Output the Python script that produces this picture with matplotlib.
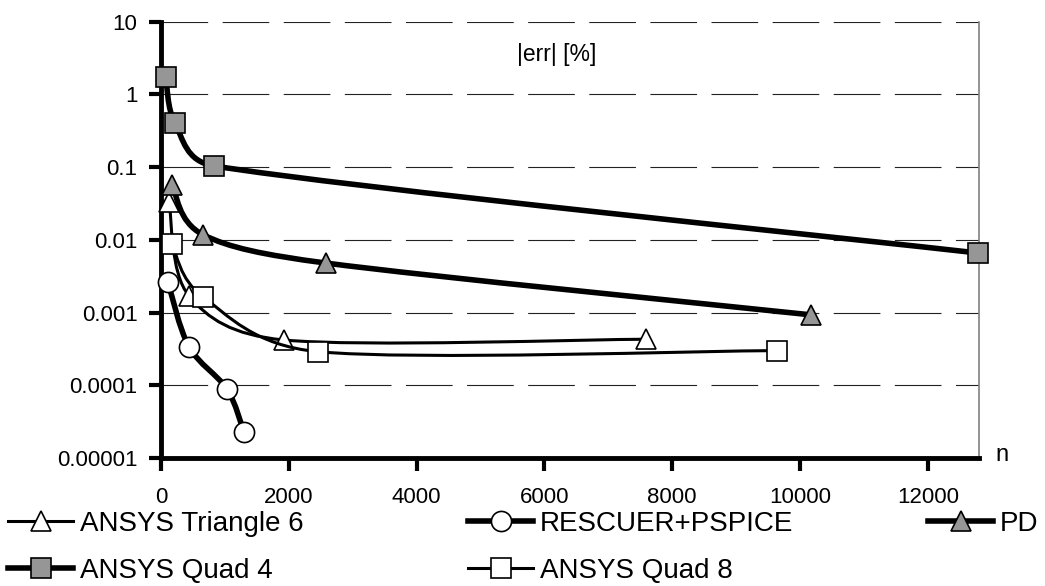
import matplotlib
matplotlib.use('Agg')
import matplotlib.pyplot as plt
import numpy as np
from matplotlib.path import Path
from matplotlib.patches import PathPatch
from matplotlib.lines import Line2D
from matplotlib.ticker import NullLocator

plt.rcParams['font.family'] = ['Liberation Sans', 'DejaVu Sans']

# data
n_tri6 = [125, 437, 1922, 7594]
err_tri6 = [0.033, 0.0017, 0.00042, 0.00043]
n_resc = [109, 437, 1031, 1297]
err_resc = [0.0026, 0.00034, 0.000089, 0.000023]
n_pd = [172, 656, 2578, 10172]
err_pd = [0.057, 0.0118, 0.0048, 0.00093]
n_q4 = [75, 219, 828, 12780]
err_q4 = [1.73, 0.40, 0.104, 0.0066]
n_q8 = [172, 656, 2453, 9640]
err_q8 = [0.0087, 0.00165, 0.00029, 0.00030]

series_names = ['ANSYS Triangle 6', 'RESCUER+PSPICE', 'PD', 'ANSYS Quad 4', 'ANSYS Quad 8']
xticks = [0, 2000, 4000, 6000, 8000, 10000, 12000]
yticks = [10, 1, 0.1, 0.01, 0.001, 0.0001, 0.00001]
ytick_labels = ['10', '1', '0.1', '0.01', '0.001', '0.0001', '0.00001']

W, H = 1045, 586
x_min, x_max = 0, 12800
y_min, y_max = 1e-5, 10
GRAY = '#969696'

fig = plt.figure(figsize=(W / 100, H / 100), dpi=100)
ax_l, ax_r, ax_t, ax_b = 161, 979, 21.7, 458
ax = fig.add_axes([ax_l / W, 1 - ax_b / H, (ax_r - ax_l) / W, (ax_b - ax_t) / H])

# pixels per data unit, used so the smoothing behaves like on screen
sx = (ax_r - ax_l) / (x_max - x_min)
sy = (ax_b - ax_t) / (np.log10(y_max) - np.log10(y_min))


def smooth_path(xs, ys):
    """ Excel-like smoothed line: bezier segments, tangents capped at half the segment """
    p = np.column_stack([np.asarray(xs, float) * sx, np.log10(ys) * sy])
    n = len(p)
    verts = [p[0]]
    codes = [Path.MOVETO]
    for i in range(n - 1):
        p0 = p[max(i - 1, 0)]
        p1 = p[i]
        p2 = p[i + 1]
        p3 = p[min(i + 2, n - 1)]
        d12 = np.hypot(*(p2 - p1))
        d02 = np.hypot(*(p2 - p0))
        d13 = np.hypot(*(p3 - p1))
        f1 = 1 / 6 if d02 / 6 < d12 / 2 else d12 / d02 / 2
        f2 = 1 / 6 if d13 / 6 < d12 / 2 else d12 / d13 / 2
        verts += [p1 + (p2 - p0) * f1, p2 - (p3 - p1) * f2, p2]
        codes += [Path.CURVE4] * 3
    v = np.array(verts)
    return Path(np.column_stack([v[:, 0] / sx, 10 ** (v[:, 1] / sy)]), codes)


styles = [
    (n_tri6, err_tri6, '^', 'white', 2.2),
    (n_resc, err_resc, 'o', 'white', 4.0),
    (n_pd, err_pd, '^', GRAY, 4.0),
    (n_q4, err_q4, 's', GRAY, 4.0),
    (n_q8, err_q8, 's', 'white', 2.2),
]

handles = []
for k, (xs, ys, mk, fc, lw) in enumerate(styles):
    z = 3 + k
    ax.add_patch(PathPatch(smooth_path(xs, ys), fill=False, edgecolor='black', lw=lw,
                           capstyle='round', joinstyle='round', zorder=z))
    ax.plot(xs, ys, linestyle='none', marker=mk, markersize=14.5, markerfacecolor=fc,
            markeredgecolor='black', markeredgewidth=1.2, zorder=z, clip_on=False)
    handles.append(Line2D([], [], color='black', lw=lw, marker=mk, markersize=14.5,
                          markerfacecolor=fc, markeredgecolor='black', markeredgewidth=1.2))

ax.set_yscale('log')
ax.set_xlim(x_min, x_max)
ax.set_ylim(y_min, y_max)
ax.set_yticks(yticks, ytick_labels)
ax.yaxis.set_minor_locator(NullLocator())
ax.set_xticks(xticks, [str(t) for t in xticks])
ax.tick_params(direction='out', length=9, width=3, labelsize=16, colors='black')
ax.tick_params(axis='x', pad=12)
ax.tick_params(axis='y', pad=8)

ax.spines['top'].set_visible(False)
ax.spines['left'].set_linewidth(3.5)
ax.spines['bottom'].set_linewidth(3.5)
ax.spines['right'].set_linewidth(1.2)
ax.spines['right'].set_color('#808080')
ax.yaxis.grid(True, color='#222222', lw=0.8, linestyle=(0, (42, 13)))
ax.set_axisbelow(True)

fig.text(557 / W, 1 - 55 / H, '|err| [%]', ha='center', va='center', fontsize=16.5)
fig.text(995 / W, 1 - 455 / H, 'n', ha='left', va='center', fontsize=17)

# legend: three columns, rows filled left to right
columns = [([0, 3], 8), ([1, 4], 468), ([2], 928)]
for idx, x0 in columns:
    fig.legend([handles[i] for i in idx], [series_names[i] for i in idx],
               loc='upper left', bbox_to_anchor=(x0 / W, 1 - 511 / H),
               frameon=False, fontsize=20, handlelength=2.34, handletextpad=0.25,
               labelspacing=0.75, borderpad=0, borderaxespad=0, numpoints=1)

fig.savefig('out.png', dpi=100)
